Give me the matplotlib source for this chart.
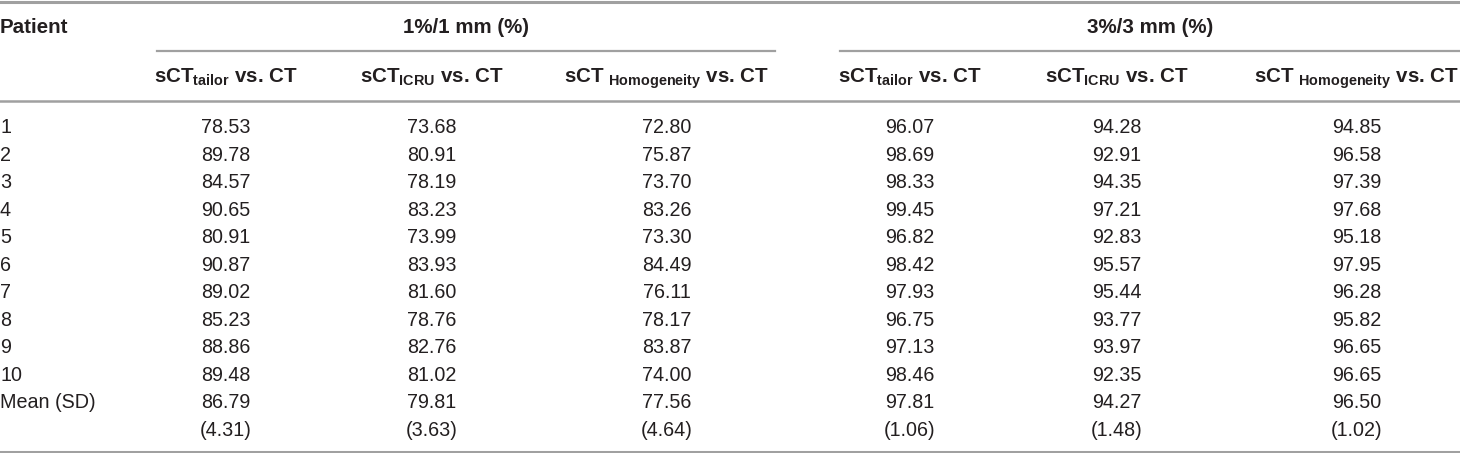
import matplotlib
matplotlib.use('Agg')
import matplotlib.pyplot as plt

# table values
patients = ['1', '2', '3', '4', '5', '6', '7', '8', '9', '10']
g1_tailor = [78.53, 89.78, 84.57, 90.65, 80.91, 90.87, 89.02, 85.23, 88.86, 89.48]
g1_icru = [73.68, 80.91, 78.19, 83.23, 73.99, 83.93, 81.60, 78.76, 82.76, 81.02]
g1_homo = [72.80, 75.87, 73.70, 83.26, 73.30, 84.49, 76.11, 78.17, 83.87, 74.00]
g3_tailor = [96.07, 98.69, 98.33, 99.45, 96.82, 98.42, 97.93, 96.75, 97.13, 98.46]
g3_icru = [94.28, 92.91, 94.35, 97.21, 92.83, 95.57, 95.44, 93.77, 93.97, 92.35]
g3_homo = [94.85, 96.58, 97.39, 97.68, 95.18, 97.95, 96.28, 95.82, 96.65, 96.65]
means = [86.79, 79.81, 77.56, 97.81, 94.27, 96.50]
sds = [4.31, 3.63, 4.64, 1.06, 1.48, 1.02]
groups = ['1%/1 mm (%)', '3%/3 mm (%)']
subheads = [r'sCT$_{tailor}$ vs. CT', r'sCT$_{ICRU}$ vs. CT', r'sCT $_{Homogeneity}$ vs. CT']

plt.rcParams['font.family'] = ['Liberation Sans', 'DejaVu Sans']
plt.rcParams['mathtext.fontset'] = 'custom'
plt.rcParams['mathtext.rm'] = 'Liberation Sans'
plt.rcParams['mathtext.bf'] = 'Liberation Sans:bold'
plt.rcParams['mathtext.default'] = 'bf'

fig = plt.figure(figsize=(14.6, 4.53), dpi=100)
ax = fig.add_axes([0, 0, 1, 1])
ax.set_xlim(0, 1460)
ax.set_ylim(453, 0)
ax.axis('off')

txt = '#231f20'
line = '#a0a0a0'
fs = 14.2
hfs = 14.8
col_x = [226, 432, 667, 910, 1117, 1357]
row_y0, row_dy = 133, 27.55

# rules
ax.plot([0, 1460], [1.5, 1.5], color=line, lw=2.2)
ax.plot([157, 775], [51, 51], color=line, lw=1.6)
ax.plot([840, 1460], [51, 51], color=line, lw=1.6)
ax.plot([0, 1460], [100.5, 100.5], color=line, lw=1.8)
ax.plot([0, 1460], [451.5, 451.5], color=line, lw=2.2)

# header
ax.text(0, 33, 'Patient', fontsize=hfs, fontweight='bold', color=txt, ha='left', va='baseline')
ax.text(466, 33, groups[0], fontsize=hfs, fontweight='bold', color=txt, ha='center', va='baseline')
ax.text(1150, 33, groups[1], fontsize=hfs, fontweight='bold', color=txt, ha='center', va='baseline')
for i, x in enumerate(col_x):
    ax.text(x, 83, subheads[i % 3], fontsize=hfs, fontweight='bold', color=txt,
            ha='center', va='baseline')

# body
cols = [g1_tailor, g1_icru, g1_homo, g3_tailor, g3_icru, g3_homo]
for r, p in enumerate(patients):
    y = row_y0 + r * row_dy
    ax.text(0, y, p, fontsize=fs, color=txt, ha='left', va='baseline')
    for x, c in zip(col_x, cols):
        ax.text(x, y, f'{c[r]:.2f}', fontsize=fs, color=txt, ha='center', va='baseline')

y_mean = row_y0 + 10 * row_dy
y_sd = row_y0 + 11 * row_dy
ax.text(0, y_mean, 'Mean (SD)', fontsize=fs, color=txt, ha='left', va='baseline')
for x, m, s in zip(col_x, means, sds):
    ax.text(x, y_mean, f'{m:.2f}', fontsize=fs, color=txt, ha='center', va='baseline')
    ax.text(x, y_sd, f'({s:.2f})', fontsize=fs, color=txt, ha='center', va='baseline')

fig.savefig('out.png', dpi=100)
